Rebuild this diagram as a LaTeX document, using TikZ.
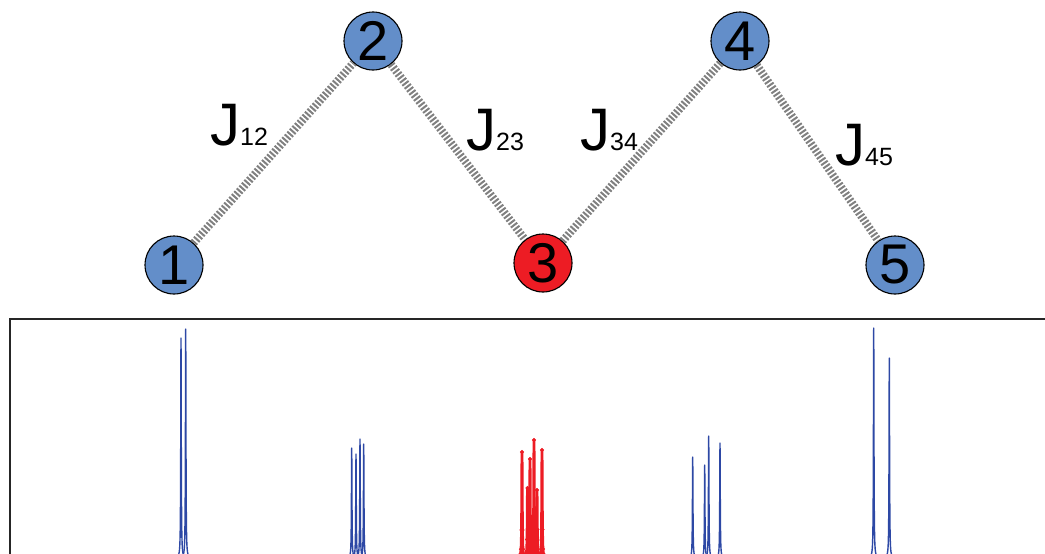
\documentclass[tikz,border=0pt]{standalone}
\usepackage{fontspec}
\setmainfont{Liberation Sans}
\usetikzlibrary{positioning,plotmarks}
\definecolor{spinblue}{RGB}{99,142,201}
\definecolor{spinred}{RGB}{237,28,36}
\definecolor{specblue}{RGB}{45,72,165}

\begin{document}
\begin{tikzpicture}[x=1pt,y=-1pt,
spin/.style={circle, draw, line width=1.1pt, minimum size=58pt, inner sep=0pt, fill=spinblue, font=\fontsize{56}{60}\selectfont},
coupling/.style={draw=black!50, line width=8pt, dash pattern=on 2pt off 1.8pt},
jlabel/.style={anchor=base west, inner sep=0pt, font=\fontsize{60}{66}\selectfont},
peak/.style={specblue, line width=1.4pt, line join=round}]
\useasboundingbox (0,0) rectangle (1045,554);
\clip (0,0) rectangle (1045,554);
\node[spin] (s1) at (174,265) {1};
\node[spin] (s2) at (373,41) {2};
\node[spin, fill=spinred] (s3) at (543,263) {3};
\node[spin] (s4) at (740,41) {4};
\node[spin] (s5) at (895,265) {5};
\draw[coupling] (s1)--(s2);
\draw[coupling] (s2)--(s3);
\draw[coupling] (s3)--(s4);
\draw[coupling] (s4)--(s5);
\node[jlabel] (j12) at (210,145) {J{\fontsize{25}{30}\selectfont 12}};
\node[jlabel] (j23) at (466,150) {J{\fontsize{25}{30}\selectfont 23}};
\node[jlabel] (j34) at (580,150) {J{\fontsize{25}{30}\selectfont 34}};
\node[jlabel] (j45) at (835,165) {J{\fontsize{25}{30}\selectfont 45}};
% spectrum
\draw[line width=1.5pt, black!85] (10,319) rectangle (1060,600);
\foreach \px/\py in {181/338, 185.7/329, 351.7/448, 356/454, 360/439, 363.7/444,
  692.7/457, 704.7/465, 708.7/436, 720/443, 873.7/328, 889.3/358}
  \draw[peak] plot[domain=-6:6, samples=121, variable=\t]
    ({\px+\t}, {558-(558-\py)*0.09/(\t*\t+0.09)});
\foreach \px/\py in {522/452, 527.5/488, 530/459, 534/440, 537/490, 542/450}{
  \draw[peak, spinred, line width=2.8pt] plot[domain=-6:6, samples=121, variable=\t]
    ({\px+\t}, {558-(558-\py)*0.09/(\t*\t+0.09)});
  \path plot[only marks, mark=*, mark size=1.8pt, mark options={draw=spinred, fill=spinred},
    domain=-3:3, samples=13, variable=\t]
    ({\px+\t}, {558-(558-\py)*0.09/(\t*\t+0.09)});
}
\end{tikzpicture}
\end{document}
